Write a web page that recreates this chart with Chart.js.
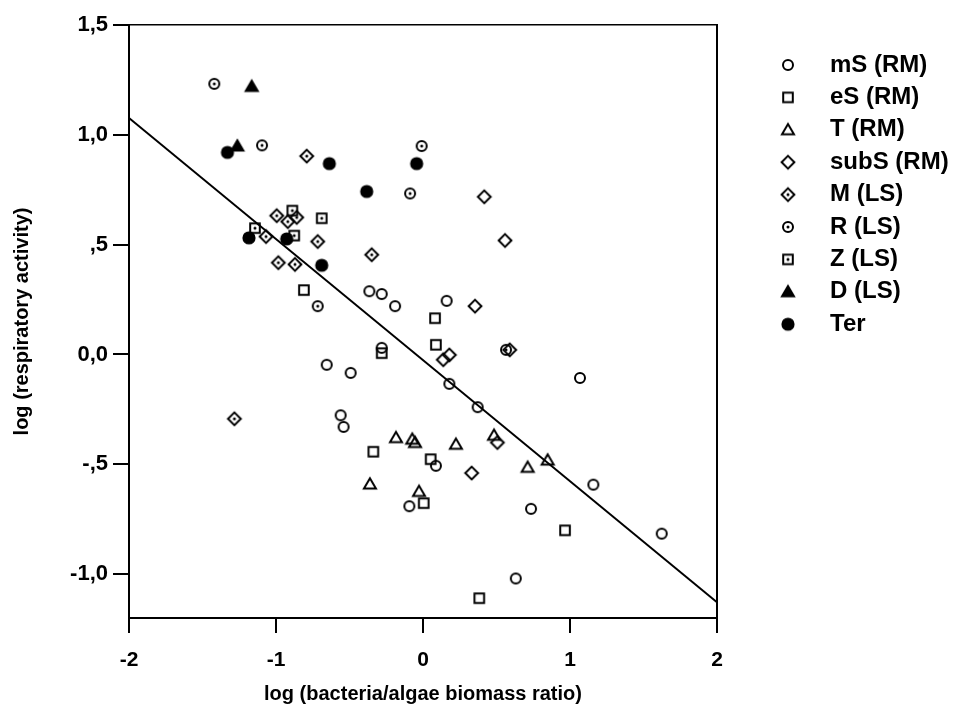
<!DOCTYPE html>
<html>
<head>
<meta charset="utf-8">
<script src="https://cdn.jsdelivr.net/npm/chart.js@4.4.1/dist/chart.umd.min.js"></script>
<style>
  html, body { margin: 0; padding: 0; background: #fff; }
  #chart-container { width: 957px; height: 720px; }
</style>
</head>
<body>
<div id="chart-container"><canvas id="myChart"></canvas></div>
<script>
// series (x = log bacteria/algae, y = log respiratory activity)
var mS_x = [-0.365, -0.281, -0.19, 0.161, -0.281, -0.655, -0.492, -0.56, -0.54, 0.179, 0.372, 1.068, 0.088, -0.093, 1.159, 0.735, 1.624, 0.631];
var mS_y = [0.288, 0.275, 0.22, 0.244, 0.03, -0.047, -0.084, -0.277, -0.33, -0.134, -0.24, -0.107, -0.507, -0.691, -0.593, -0.703, -0.816, -1.02];

var eS_x = [-0.81, 0.082, 0.088, -0.281, -0.338, 0.052, 0.005, 0.966, 0.383];
var eS_y = [0.293, 0.165, 0.044, 0.006, -0.443, -0.477, -0.677, -0.801, -1.11];

var T_x = [-0.184, -0.073, -0.054, 0.224, 0.483, 0.848, 0.712, -0.361, -0.027];
var T_y = [-0.379, -0.386, -0.401, -0.409, -0.368, -0.481, -0.514, -0.59, -0.624];

var subS_x = [0.417, 0.558, 0.354, 0.179, 0.138, 0.59, 0.506, 0.331];
var subS_y = [0.718, 0.519, 0.22, -0.002, -0.024, 0.021, -0.401, -0.54];

var M_x = [-0.791, -0.995, -0.92, -0.859, -1.068, -0.716, -0.349, -0.984, -0.871, -1.283];
var M_y = [0.903, 0.632, 0.605, 0.624, 0.537, 0.514, 0.454, 0.418, 0.41, -0.293];

var R_x = [-1.42, -1.095, -0.009, -0.088, -0.716, 0.565];
var R_y = [1.232, 0.952, 0.949, 0.733, 0.22, 0.021];

var Z_x = [-0.889, -0.689, -1.143, -0.876];
var Z_y = [0.655, 0.62, 0.575, 0.541];

var D_x = [-1.165, -1.263];
var D_y = [1.22, 0.949];

var Ter_x = [-1.33, -0.637, -0.043, -0.383, -1.184, -0.927, -0.689];
var Ter_y = [0.92, 0.869, 0.869, 0.742, 0.531, 0.526, 0.406];

// regression line end points
var fit_x = [-2, 2];
var fit_y = [1.077, -1.128];

var yTickValues = [-1.0, -0.5, 0.0, 0.5, 1.0, 1.5];
var yTickLabels = ["-1,0", "-,5", "0,0", ",5", "1,0", "1,5"];
var xTickLabels = ["-2", "-1", "0", "1", "2"];

var fontFamily = '"Liberation Sans", Arial, Helvetica, sans-serif';

function pts(xs, ys) {
  return xs.map(function(x, i){ return {x: x, y: ys[i]}; });
}

// small canvas symbols, used as pointStyle for plot and legend
function marker(shape, filled, dot) {
  var c = document.createElement('canvas');
  c.width = 18; c.height = 18;
  var g = c.getContext('2d');
  g.lineWidth = 2;
  g.strokeStyle = '#000';
  g.fillStyle = '#000';
  g.beginPath();
  if (shape == 'circle') g.arc(9, 9, filled ? 5.6 : 5, 0, 2 * Math.PI);
  if (shape == 'square') g.rect(4.2, 4.2, 9.6, 9.6);
  if (shape == 'triangle') { g.moveTo(9, 3.2); g.lineTo(15, 13.4); g.lineTo(3, 13.4); g.closePath(); }
  if (shape == 'diamond') { g.moveTo(9, 2.6); g.lineTo(15.4, 9); g.lineTo(9, 15.4); g.lineTo(2.6, 9); g.closePath(); }
  if (filled) g.fill();
  g.stroke();
  if (dot) {
    g.beginPath();
    g.arc(9, 9, 1.5, 0, 2 * Math.PI);
    g.fill();
  }
  return c;
}

function series(label, xs, ys, style) {
  return { label: label, data: pts(xs, ys), pointStyle: style, pointRadius: 7, pointHoverRadius: 7 };
}

var datasets = [
  series('mS (RM)', mS_x, mS_y, marker('circle', false, false)),
  series('eS (RM)', eS_x, eS_y, marker('square', false, false)),
  series('T (RM)', T_x, T_y, marker('triangle', false, false)),
  series('subS (RM)', subS_x, subS_y, marker('diamond', false, false)),
  series('M (LS)', M_x, M_y, marker('diamond', false, true)),
  series('R (LS)', R_x, R_y, marker('circle', false, true)),
  series('Z (LS)', Z_x, Z_y, marker('square', false, true)),
  series('D (LS)', D_x, D_y, marker('triangle', true, false)),
  series('Ter', Ter_x, Ter_y, marker('circle', true, false)),
  {
    label: 'fit',
    data: pts(fit_x, fit_y),
    showLine: true,
    borderColor: '#000',
    borderWidth: 2,
    pointRadius: 0,
    fill: false
  }
];

Chart.defaults.font.family = fontFamily;
Chart.defaults.font.weight = 'bold';
Chart.defaults.color = '#000';

var ctx = document.getElementById("myChart");
var myChart = new Chart(ctx, {
  type: 'scatter',
  data: { datasets: datasets },
  options: {
    responsive: true,
    maintainAspectRatio: false,
    animation: false,
    layout: { padding: 0 },
    scales: {
      x: {
        type: 'linear', position: 'bottom', min: -2, max: 2,
        ticks: {
          stepSize: 1, padding: 15,
          font: { size: 21, weight: 'bold' },
          callback: function(v, i){ return xTickLabels[i]; }
        },
        grid: { drawOnChartArea: false, tickLength: 15, color: '#000', lineWidth: 2 },
        border: { display: true, color: '#000', width: 2 },
        title: {
          display: true, text: 'log (bacteria/algae biomass ratio)',
          font: { size: 20, weight: 'bold' }, padding: { top: 0, bottom: 14 }
        },
        afterFit: function(scale){ scale.height = 102; }
      },
      y: {
        type: 'linear', position: 'left', min: -1.2, max: 1.5,
        afterBuildTicks: function(scale){
          scale.ticks = yTickValues.map(function(v){ return {value: v}; });
        },
        ticks: {
          padding: 5,
          font: { size: 22, weight: 'bold' },
          callback: function(v, i){ return yTickLabels[i]; }
        },
        grid: { drawOnChartArea: false, tickLength: 16, color: '#000', lineWidth: 2 },
        border: { display: true, color: '#000', width: 2 },
        title: {
          display: true, text: 'log (respiratory activity)',
          font: { size: 20, weight: 'bold' }, padding: { top: 10, bottom: 0 }
        },
        afterFit: function(scale){ scale.width = 129; }
      },
      // top and right frame lines
      x2: {
        type: 'linear', position: 'top', min: -2, max: 2,
        ticks: { display: false },
        grid: { display: false },
        border: { display: true, color: '#000', width: 1.5 },
        afterFit: function(scale){ scale.height = 25; }
      },
      y2: {
        type: 'linear', position: 'right', min: -1.2, max: 1.5,
        ticks: { display: false },
        grid: { display: false },
        border: { display: true, color: '#000', width: 2 },
        afterFit: function(scale){ scale.width = 32.6; }
      }
    },
    plugins: {
      tooltip: { enabled: false },
      legend: {
        position: 'right',
        align: 'start',
        maxWidth: 207.4,
        title: { display: true, text: '', padding: 0, font: { size: 44.6, lineHeight: 1 } },
        labels: {
          usePointStyle: true,
          pointStyleWidth: 60,
          padding: 8.4,
          color: '#000',
          font: { size: 24, weight: 'bold' },
          filter: function(item){ return item.text != 'fit'; }
        }
      }
    }
  }
});
</script>
</body>
</html>
